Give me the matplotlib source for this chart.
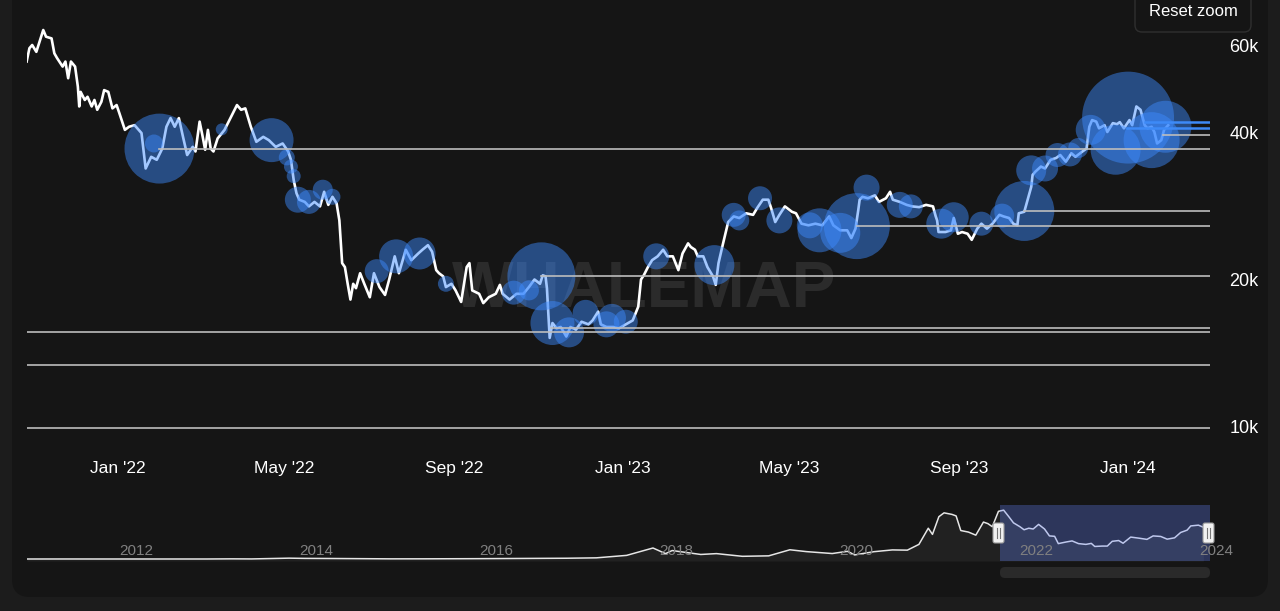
import numpy as np
import pandas as pd
import matplotlib
matplotlib.use("Agg")
import matplotlib.pyplot as plt
import matplotlib.dates as mdates
from matplotlib.patches import FancyBboxPatch

plt.rcParams['font.family'] = ['Liberation Sans', 'DejaVu Sans']

# ---------------- data ----------------
price_dates = [
    '2021-10-27', '2021-10-29', '2021-10-31', '2021-11-03', '2021-11-08', '2021-11-10', '2021-11-14',
    '2021-11-16', '2021-11-18', '2021-11-22', '2021-11-24', '2021-11-26', '2021-11-28', '2021-12-01',
    '2021-12-03', '2021-12-04', '2021-12-05', '2021-12-08', '2021-12-10', '2021-12-13', '2021-12-15',
    '2021-12-17', '2021-12-20', '2021-12-22', '2021-12-25', '2021-12-28', '2021-12-31', '2022-01-02',
    '2022-01-06', '2022-01-09', '2022-01-13', '2022-01-18', '2022-01-21', '2022-01-25', '2022-01-29',
    '2022-02-02', '2022-02-05', '2022-02-08', '2022-02-11', '2022-02-14', '2022-02-17', '2022-02-20',
    '2022-02-24', '2022-02-26', '2022-03-01', '2022-03-03', '2022-03-05', '2022-03-07', '2022-03-09',
    '2022-03-11', '2022-03-14', '2022-03-19', '2022-03-25', '2022-03-28', '2022-03-31', '2022-04-03',
    '2022-04-07', '2022-04-11', '2022-04-16', '2022-04-20', '2022-04-25', '2022-04-30', '2022-05-04',
    '2022-05-06', '2022-05-08', '2022-05-10', '2022-05-12', '2022-05-16', '2022-05-19', '2022-05-23',
    '2022-05-27', '2022-05-30', '2022-06-02', '2022-06-05', '2022-06-08', '2022-06-10', '2022-06-12',
    '2022-06-14', '2022-06-16', '2022-06-18', '2022-06-20', '2022-06-22', '2022-06-25', '2022-06-28',
    '2022-07-02', '2022-07-05', '2022-07-09', '2022-07-13', '2022-07-16', '2022-07-20', '2022-07-23',
    '2022-07-28', '2022-08-01', '2022-08-06', '2022-08-09', '2022-08-13', '2022-08-16', '2022-08-19',
    '2022-08-21', '2022-08-24', '2022-08-26', '2022-08-30', '2022-09-02', '2022-09-06', '2022-09-10',
    '2022-09-12', '2022-09-14', '2022-09-19', '2022-09-22', '2022-09-26', '2022-10-01', '2022-10-04',
    '2022-10-06', '2022-10-11', '2022-10-16', '2022-10-21', '2022-10-25', '2022-10-29', '2022-11-02',
    '2022-11-04', '2022-11-06', '2022-11-07', '2022-11-08', '2022-11-09', '2022-11-11', '2022-11-14',
    '2022-11-17', '2022-11-21', '2022-11-24', '2022-11-28', '2022-12-02', '2022-12-07', '2022-12-10',
    '2022-12-14', '2022-12-16', '2022-12-20', '2022-12-25', '2022-12-29', '2023-01-03', '2023-01-08',
    '2023-01-12', '2023-01-14', '2023-01-16', '2023-01-19', '2023-01-22', '2023-01-26', '2023-01-30',
    '2023-02-02', '2023-02-06', '2023-02-10', '2023-02-13', '2023-02-17', '2023-02-19', '2023-02-22',
    '2023-02-24', '2023-02-28', '2023-03-03', '2023-03-07', '2023-03-09', '2023-03-11', '2023-03-14',
    '2023-03-16', '2023-03-18', '2023-03-22', '2023-03-26', '2023-03-31', '2023-04-05', '2023-04-08',
    '2023-04-12', '2023-04-16', '2023-04-18', '2023-04-21', '2023-04-24', '2023-04-28', '2023-05-03',
    '2023-05-06', '2023-05-10', '2023-05-15', '2023-05-20', '2023-05-25', '2023-05-30', '2023-06-02',
    '2023-06-07', '2023-06-12', '2023-06-15', '2023-06-18', '2023-06-20', '2023-06-21', '2023-06-23',
    '2023-06-27', '2023-07-02', '2023-07-05', '2023-07-10', '2023-07-13', '2023-07-15', '2023-07-20',
    '2023-07-25', '2023-07-29', '2023-08-03', '2023-08-08', '2023-08-13', '2023-08-15', '2023-08-16',
    '2023-08-17', '2023-08-22', '2023-08-26', '2023-08-28', '2023-08-31', '2023-09-03', '2023-09-07',
    '2023-09-10', '2023-09-14', '2023-09-17', '2023-09-21', '2023-09-25', '2023-09-30', '2023-10-03',
    '2023-10-07', '2023-10-10', '2023-10-13', '2023-10-14', '2023-10-18', '2023-10-20', '2023-10-23',
    '2023-10-24', '2023-10-26', '2023-10-30', '2023-11-02', '2023-11-06', '2023-11-10', '2023-11-13',
    '2023-11-17', '2023-11-21', '2023-11-24', '2023-11-29', '2023-12-02', '2023-12-04', '2023-12-06',
    '2023-12-09', '2023-12-11', '2023-12-15', '2023-12-17', '2023-12-21', '2023-12-24', '2023-12-26',
    '2023-12-29', '2024-01-02', '2024-01-04', '2024-01-07', '2024-01-10', '2024-01-13', '2024-01-15',
    '2024-01-18', '2024-01-20', '2024-01-22', '2024-01-25', '2024-01-27', '2024-01-30',
]
price_values = [
    55700, 59300, 60200, 58300, 64600, 62600, 62100,
    57900, 56600, 54400, 55700, 51500, 55700, 54400,
    49500, 45100, 48300, 46500, 47200, 45100, 46500,
    44400, 46100, 48700, 48300, 44700, 45400, 43700,
    40400, 41000, 41300, 39800, 33700, 35600, 35100,
    37000, 41000, 42700, 41000, 42700, 39100, 35900,
    37300, 36500, 42000, 39400, 36800, 40400, 37000,
    36500, 38800, 40400, 43700, 45400, 44400, 44700,
    41000, 38200, 39100, 38500, 37300, 37900, 36500,
    35100, 31900, 30000, 29100, 28800, 28200, 28800,
    28200, 30200, 28400, 29500, 28600, 26400, 21600,
    21200, 19600, 18200, 19600, 19200, 20600, 19600,
    18400, 20600, 19300, 18600, 20000, 22300, 20600,
    23000, 21900, 22600, 23000, 23500, 22800, 20900,
    20600, 20300, 19300, 19600, 19000, 18000, 21200,
    21600, 19000, 18700, 17900, 18400, 18700, 19500,
    18700, 18200, 18700, 18700, 19300, 20000, 19600,
    20400, 20300, 19200, 17100, 15200, 16300, 15900,
    16000, 15300, 16000, 15800, 16400, 16200, 16500,
    17200, 16200, 16000, 16000, 15900, 16200, 16500,
    17600, 20000, 20400, 21200, 21900, 22300, 23000,
    22300, 22300, 20900, 22600, 23700, 23300, 23000,
    22300, 22300, 21200, 20300, 19500, 21600, 23500,
    24800, 26200, 26900, 26700, 27300, 27100, 28000,
    29100, 29100, 28000, 26200, 27100, 28200, 27500,
    27300, 26000, 25800, 26000, 25800, 26900, 25800,
    25200, 25200, 24300, 25400, 27700, 29100, 29500,
    29300, 29700, 28800, 29300, 30200, 29100, 28800,
    28400, 28200, 28100, 28400, 28200, 26900, 26400,
    25000, 25000, 25200, 26700, 24800, 25000, 24800,
    24100, 25400, 26000, 25400, 26000, 27100, 26900,
    26700, 26000, 25800, 27300, 27500, 28800, 30900,
    32700, 33200, 34000, 33700, 35100, 35400, 35900,
    34800, 36200, 35600, 36500, 37000, 41000, 42300,
    42000, 40700, 41300, 40000, 41700, 41500, 41900,
    40700, 42300, 41300, 45100, 44400, 41300, 40700,
    41000, 40000, 37900, 38500, 40400, 41300,
]

# whale transfers (bubbles)
whale_dates = [
    '2022-01-31', '2022-01-27', '2022-03-17', '2022-04-22', '2022-05-03', '2022-05-06', '2022-05-08',
    '2022-05-11', '2022-05-19', '2022-05-29', '2022-06-05', '2022-07-07', '2022-07-21', '2022-08-07',
    '2022-08-26', '2022-10-14', '2022-10-25', '2022-11-03', '2022-11-11', '2022-11-23', '2022-12-05',
    '2022-12-20', '2022-12-24', '2023-01-03', '2023-01-25', '2023-03-08', '2023-03-22', '2023-03-26',
    '2023-04-10', '2023-04-24', '2023-05-16', '2023-05-23', '2023-06-07', '2023-06-19', '2023-06-26',
    '2023-07-20', '2023-07-28', '2023-08-19', '2023-08-28', '2023-09-17', '2023-10-02', '2023-10-18',
    '2023-10-23', '2023-11-02', '2023-11-11', '2023-11-20', '2023-11-26', '2023-12-05', '2023-12-23',
    '2024-01-01', '2024-01-18', '2024-01-28',
]
whale_prices = [
    37000, 37900, 40500, 38500, 35500, 34000, 32500,
    29100, 28800, 30500, 29500, 20800, 22300, 22600,
    19600, 18800, 19000, 20300, 16300, 15600, 17100,
    16200, 16700, 16400, 22300, 21400, 27100, 26400,
    29300, 26400, 25800, 25200, 24900, 25700, 30800,
    28400, 28200, 26000, 26800, 26000, 27000, 27600,
    33400, 33700, 35900, 36000, 37100, 40400, 36800,
    42800, 38500, 41000,
]
whale_volume = [
    12250, 810, 360, 4840, 640, 490, 490,
    1690, 1440, 1000, 640, 1440, 2890, 2560,
    640, 1440, 1000, 11560, 4840, 2250, 1690,
    1690, 1960, 1440, 1690, 4000, 1440, 1000,
    1440, 1690, 1690, 4840, 4000, 10890, 1690,
    1690, 1440, 2250, 2250, 1440, 1440, 9000,
    2250, 1690, 1440, 1440, 1000, 2250, 6250,
    21160, 7840, 6760,
]

# price levels
level_prices = [37000, 27600, 25700, 20300, 15900, 15600, 13400, 9950, 40800, 42000, 39400]
level_from = ['2022-01-31', '2023-10-18', '2023-06-19', '2022-11-03', '2022-11-10', '2021-01-01',
              '2021-01-01', '2021-01-01', '2023-12-31', '2024-01-13', '2024-01-26']
level_active = [False, False, False, False, False, False, False, False, True, True, False]

# navigator history (smoothed), up to the end of the series
nav_dates = [
    '2011-01-01', '2011-06-08', '2012-01-01', '2012-08-15', '2013-01-01', '2013-04-10', '2013-07-01',
    '2013-11-30', '2014-02-01', '2014-06-01', '2015-01-15', '2015-06-01', '2016-01-01', '2016-06-15',
    '2017-01-01', '2017-05-01', '2017-09-01', '2017-12-17', '2018-02-06', '2018-03-05', '2018-06-29',
    '2018-09-01', '2018-12-15', '2019-04-01', '2019-06-26', '2019-09-01', '2019-12-15', '2020-02-15',
    '2020-03-15', '2020-06-01', '2020-08-15', '2020-10-15', '2020-12-01', '2021-01-08', '2021-01-25',
    '2021-02-20', '2021-03-13', '2021-04-14', '2021-05-01', '2021-05-20', '2021-06-20', '2021-07-20',
    '2021-08-20', '2021-09-07', '2021-09-25', '2021-10-20', '2021-11-10', '2021-12-01', '2021-12-20',
    '2022-01-15', '2022-02-01', '2022-02-20', '2022-03-10', '2022-04-01', '2022-04-25', '2022-05-15',
    '2022-06-05', '2022-06-20', '2022-07-20', '2022-08-15', '2022-09-10', '2022-10-10', '2022-11-01',
    '2022-11-15', '2022-12-15', '2023-01-05', '2023-01-25', '2023-02-20', '2023-03-10', '2023-04-10',
    '2023-05-15', '2023-06-15', '2023-07-10', '2023-08-10', '2023-09-05', '2023-10-05', '2023-10-30',
    '2023-11-25', '2023-12-10', '2024-01-10', '2024-01-30',
]
nav_values = [
    0.3, 30, 5, 12, 13, 200, 90,
    1100, 800, 640, 200, 230, 430, 700,
    1000, 1500, 4700, 14300, 7000, 11000, 5900,
    7000, 3500, 4100, 12000, 9600, 7100, 10000,
    5300, 9500, 11800, 11500, 19000, 40000, 32000,
    55000, 60000, 58000, 56000, 37000, 35000, 31000,
    48000, 46000, 42000, 62000, 63500, 55000, 47000,
    42000, 38000, 40000, 39000, 45000, 39000, 30000,
    29500, 20000, 22000, 23500, 20000, 19000, 20300,
    16300, 16800, 16800, 23000, 24000, 20500, 28500,
    27000, 25500, 30000, 29300, 25800, 27500, 34500,
    37500, 43000, 44000, 41300,
]

x_ticks = ['2022-01-01', '2022-05-01', '2022-09-01', '2023-01-01', '2023-05-01', '2023-09-01', '2024-01-01']
x_labels = ["Jan '22", "May '22", "Sep '22", "Jan '23", "May '23", "Sep '23", "Jan '24"]
y_ticks = [10000, 20000, 40000, 60000]
y_labels = ['10k', '20k', '40k', '60k']
nav_years = ['2012', '2014', '2016', '2018', '2020', '2022', '2024']

view_start = pd.Timestamp('2021-10-27 06:00')
view_end = pd.Timestamp('2024-02-29 05:00')

# ---------------- figure ----------------
W, H = 1280, 611
BG = '#151515'
fig = plt.figure(figsize=(W / 100, H / 100), dpi=100)
fig.patch.set_facecolor('#1c1c1c')

def px_rect(x0, y0, x1, y1):
    return [x0 / W, (H - y1) / H, (x1 - x0) / W, (y1 - y0) / H]

ax_bg = fig.add_axes([0, 0, 1, 1], zorder=-5)
ax_bg.set_xlim(0, W)
ax_bg.set_ylim(H, 0)
ax_bg.axis('off')
ax_bg.add_patch(FancyBboxPatch((12, -40), 1256, 637, boxstyle='round,pad=0,rounding_size=18',
                               fc=BG, ec='none'))

# main chart
ax = fig.add_axes(px_rect(27, 15, 1210, 440))
ax.set_facecolor('none')
ax.set_yscale('log')
ax.set_ylim(9407, 69320)
ax.set_xlim(view_start, view_end)

dates = pd.to_datetime(price_dates)
ax.text(0.522, 0.353, 'WHALEMAP', transform=ax.transAxes, ha='center', va='center',
        fontsize=47, fontweight='bold', color='#2b2b2b', zorder=0)

ax.plot(dates, price_values, color='white', lw=1.9, zorder=2, solid_joinstyle='round')

wd = pd.to_datetime(whale_dates)
ax.scatter(wd, whale_prices, s=np.array(whale_volume) * 0.207, color='#3d8bff', alpha=0.47,
           edgecolors='none', zorder=3)

end_num = mdates.date2num(view_end)
for lvl, start, active in zip(level_prices, level_from, level_active):
    s = mdates.date2num(pd.Timestamp(start))
    if active:
        ax.plot([s, end_num], [lvl, lvl], color='#3d8af7', lw=1.8, zorder=4)
    else:
        ax.plot([s, end_num], [lvl, lvl], color='#bdbdbd', lw=1.2, zorder=4)

ax.yaxis.tick_right()
ax.set_yticks(y_ticks)
ax.set_yticklabels(y_labels)
ax.yaxis.set_minor_locator(matplotlib.ticker.NullLocator())
ax.set_xticks(pd.to_datetime(x_ticks))
ax.set_xticklabels(x_labels)
ax.tick_params(axis='y', length=0, pad=14, labelsize=13, labelcolor='white')
ax.tick_params(axis='x', length=0, pad=15, labelsize=12.5, labelcolor='white')
for sp in ax.spines.values():
    sp.set_visible(False)

# navigator
nav = fig.add_axes(px_rect(27, 505, 1210, 561))
nav.set_facecolor('none')
nd = pd.to_datetime(nav_dates)
nav.set_ylim(-2600, 70200)
nav.set_xlim(pd.Timestamp('2011-01-01'), pd.Timestamp('2024-02-26'))
nav.fill_between(nd, nav_values, -2600, color='#212121', lw=0, zorder=1)
nav.plot(nd, nav_values, color='#e6e6e6', lw=1.1, zorder=2)
nav.axvspan(view_start, view_end, color='#6685ff', alpha=0.3, lw=0, zorder=3)
for yr in nav_years:
    nav.annotate(yr, (pd.Timestamp(yr + '-01-01'), 0.18), xycoords=('data', 'axes fraction'),
                 xytext=(2, 0), textcoords='offset points', ha='left', va='center',
                 fontsize=11, color='#808080', zorder=4, annotation_clip=False)
nav.axis('off')

# overlay: handles, scrollbar, reset button
ax_top = fig.add_axes([0, 0, 1, 1], zorder=10)
ax_top.set_xlim(0, W)
ax_top.set_ylim(H, 0)
ax_top.axis('off')
ax_top.patch.set_alpha(0)
for hx in (998.5, 1208.5):
    ax_top.add_patch(FancyBboxPatch((hx - 5.5, 523), 11, 20, boxstyle='round,pad=0,rounding_size=2',
                                    fc='#f2f2f2', ec='#9a9a9a', lw=0.8))
    ax_top.plot([hx - 1.5, hx - 1.5], [528, 538], color='#777777', lw=0.8)
    ax_top.plot([hx + 1.5, hx + 1.5], [528, 538], color='#777777', lw=0.8)
ax_top.add_patch(FancyBboxPatch((1000, 567), 210, 11, boxstyle='round,pad=0,rounding_size=5',
                                fc='#2a2a2a', ec='none'))
ax_top.add_patch(FancyBboxPatch((1135, -10), 116, 42, boxstyle='round,pad=0,rounding_size=7',
                                fc=BG, ec='#2f2f2f', lw=1))
ax_top.text(1193, 12, 'Reset zoom', ha='center', va='center', fontsize=12, color='white')

fig.savefig('out.png', dpi=100, facecolor=fig.get_facecolor())
